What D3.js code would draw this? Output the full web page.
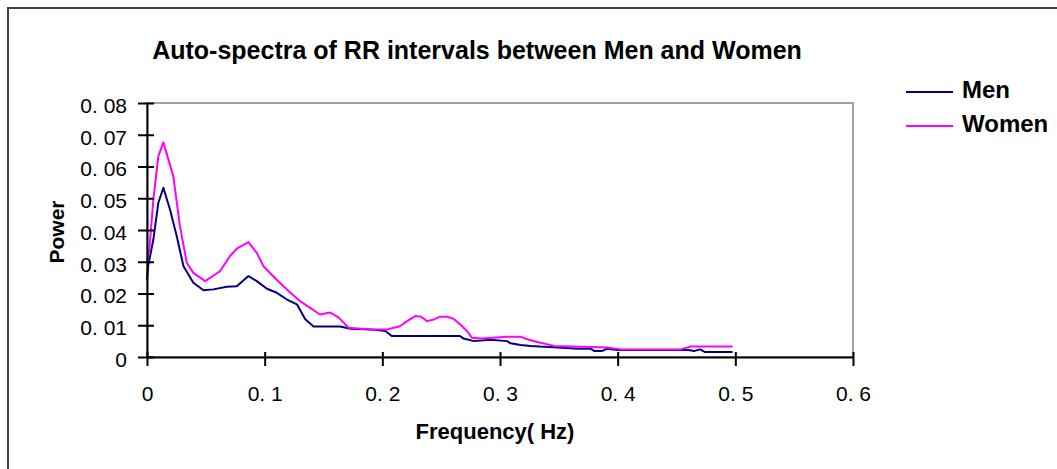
<!DOCTYPE html>
<html>
<head>
<meta charset="utf-8">
<script src="https://cdn.jsdelivr.net/npm/d3@7"></script>
<style>
  html, body { margin: 0; padding: 0; background: #fff; }
  svg { display: block; }
  text { font-family: "Liberation Sans", Arial, sans-serif; }
</style>
</head>
<body>
<svg id="chart" width="1057" height="469"></svg>
<script>
// ---- data ----
const title = "Auto-spectra of RR intervals between Men and Women";
const xTicks = [0, 0.1, 0.2, 0.3, 0.4, 0.5, 0.6];
const yTicks = [0, 0.01, 0.02, 0.03, 0.04, 0.05, 0.06, 0.07, 0.08];
const seriesNames = ["Men", "Women"];

const menFreq = [0, 0.001, 0.0054, 0.0096, 0.0139, 0.0196, 0.0253, 0.031, 0.0394, 0.048,
  0.0564, 0.0678, 0.0763, 0.0862, 0.0933, 0.1019, 0.110, 0.119, 0.1274, 0.1345,
  0.1415, 0.164, 0.173, 0.190, 0.2026, 0.208, 0.266, 0.269, 0.278, 0.292,
  0.306, 0.309, 0.3175, 0.326, 0.334, 0.346, 0.366, 0.377, 0.380, 0.387,
  0.391, 0.400, 0.460, 0.465, 0.470, 0.474, 0.4976];
const menPower = [0.0244, 0.0287, 0.037, 0.0485, 0.0533, 0.0464, 0.038, 0.0286, 0.0234, 0.021,
  0.0213, 0.0221, 0.0223, 0.0255, 0.0239, 0.0215, 0.0203, 0.0181, 0.0166, 0.0119,
  0.0096, 0.0096, 0.0089, 0.0087, 0.0082, 0.0066, 0.0066, 0.0058, 0.005, 0.0054,
  0.005, 0.0043, 0.0038, 0.0035, 0.0033, 0.0031, 0.0026, 0.0026, 0.0019, 0.0019,
  0.0026, 0.0022, 0.0022, 0.0019, 0.0024, 0.0016, 0.0016];

const womenFreq = [0, 0.002, 0.0054, 0.0096, 0.0139, 0.0224, 0.028, 0.0338, 0.0394, 0.0494,
  0.062, 0.0706, 0.0763, 0.0862, 0.0933, 0.099, 0.110, 0.1217, 0.130, 0.1387,
  0.147, 0.1557, 0.163, 0.1713, 0.190, 0.204, 0.210, 0.215, 0.221, 0.228,
  0.233, 0.238, 0.2437, 0.249, 0.255, 0.2607, 0.266, 0.272, 0.276, 0.284,
  0.306, 0.3175, 0.323, 0.3317, 0.346, 0.391, 0.4026, 0.4536, 0.462, 0.4976];
const womenPower = [0.0307, 0.034, 0.0496, 0.0632, 0.0676, 0.0569, 0.0412, 0.0297, 0.0265, 0.0239,
  0.027, 0.0318, 0.0341, 0.0362, 0.0328, 0.0286, 0.0244, 0.0203, 0.0176, 0.0155,
  0.0134, 0.014, 0.0124, 0.0092, 0.0087, 0.0087, 0.0092, 0.0097, 0.0113, 0.0129,
  0.0127, 0.0113, 0.0118, 0.0127, 0.0127, 0.012, 0.0103, 0.0082, 0.0061, 0.0058,
  0.0064, 0.0064, 0.0056, 0.0047, 0.0035, 0.003, 0.0024, 0.0024, 0.0033, 0.0033];

const colors = ["#000080", "#ff00ff"];

// ---- layout ----
const svg = d3.select("#chart");
const W = 1057, H = 469;
const plot = { left: 147, top: 103, right: 853, bottom: 357 };

svg.append("rect").attr("width", W).attr("height", H).attr("fill", "#fff");
// outer chart border (extends past right/bottom edge)
svg.append("rect").attr("x", 8).attr("y", 8).attr("width", W + 20).attr("height", H + 20)
  .attr("fill", "none").attr("stroke", "#404040").attr("stroke-width", 2);

const x = d3.scaleLinear().domain([0, 0.6]).range([plot.left, plot.right]);
const y = d3.scaleLinear().domain([0, 0.08]).range([plot.bottom, plot.top]);

// plot frame (grey top/right)
svg.append("rect")
  .attr("x", plot.left).attr("y", plot.top)
  .attr("width", plot.right - plot.left).attr("height", plot.bottom - plot.top)
  .attr("fill", "none").attr("stroke", "#a0a0a0").attr("stroke-width", 2);

// title
svg.append("text").attr("x", 477).attr("y", 59).attr("text-anchor", "middle")
  .attr("font-size", 25).attr("font-weight", "bold").attr("fill", "#000").text(title);

// lines
const line = d3.line().x(d => x(d[0])).y(d => y(d[1]));
const men = menFreq.map((f, i) => [f, menPower[i]]);
const women = womenFreq.map((f, i) => [f, womenPower[i]]);
[men, women].forEach((s, i) => {
  svg.append("path").datum(s).attr("d", line)
    .attr("fill", "none").attr("stroke", colors[i]).attr("stroke-width", 2)
    .attr("stroke-linejoin", "round");
});

// y axis
const fmtY = d => d === 0 ? "0" : d.toFixed(2).replace(".", ". ");
const gy = svg.append("g").attr("transform", `translate(${plot.left},0)`)
  .call(d3.axisLeft(y).tickValues(yTicks).tickFormat(fmtY).tickSizeInner(9).tickSizeOuter(0).tickPadding(11));
gy.select(".domain").attr("stroke", "#000").attr("stroke-width", 2);
gy.selectAll(".tick line").attr("x1", 7).attr("x2", -9).attr("stroke", "#000").attr("stroke-width", 2);
gy.selectAll(".tick text").attr("font-size", 21).attr("dy", "0.45em")
  .attr("font-family", "Liberation Sans, Arial, sans-serif").attr("fill", "#000");

// x axis
const fmtX = d => d === 0 ? "0" : d.toFixed(1).replace(".", ". ");
const gx = svg.append("g").attr("transform", `translate(0,${plot.bottom})`)
  .call(d3.axisBottom(x).tickValues(xTicks).tickFormat(fmtX).tickSizeInner(9).tickSizeOuter(0).tickPadding(20));
gx.select(".domain").attr("stroke", "#000").attr("stroke-width", 2);
gx.selectAll(".tick line").attr("y1", -5).attr("y2", 9).attr("stroke", "#000").attr("stroke-width", 2);
gx.selectAll(".tick text").attr("font-size", 21)
  .attr("font-family", "Liberation Sans, Arial, sans-serif").attr("fill", "#000");

// axis titles
svg.append("text").attr("transform", "translate(64,232) rotate(-90)")
  .attr("text-anchor", "middle").attr("font-size", 21).attr("font-weight", "bold").text("Power");
svg.append("text").attr("x", 495).attr("y", 439).attr("text-anchor", "middle")
  .attr("font-size", 22).attr("font-weight", "bold").text("Frequency( Hz)");

// legend
const legY = [92, 126];
seriesNames.forEach((n, i) => {
  svg.append("line").attr("x1", 906).attr("x2", 953).attr("y1", legY[i]).attr("y2", legY[i])
    .attr("stroke", colors[i]).attr("stroke-width", 2);
  svg.append("text").attr("x", 962).attr("y", legY[i] + 6).attr("font-size", 24)
    .attr("font-weight", "bold").attr("fill", "#000").text(n);
});
</script>
</body>
</html>
